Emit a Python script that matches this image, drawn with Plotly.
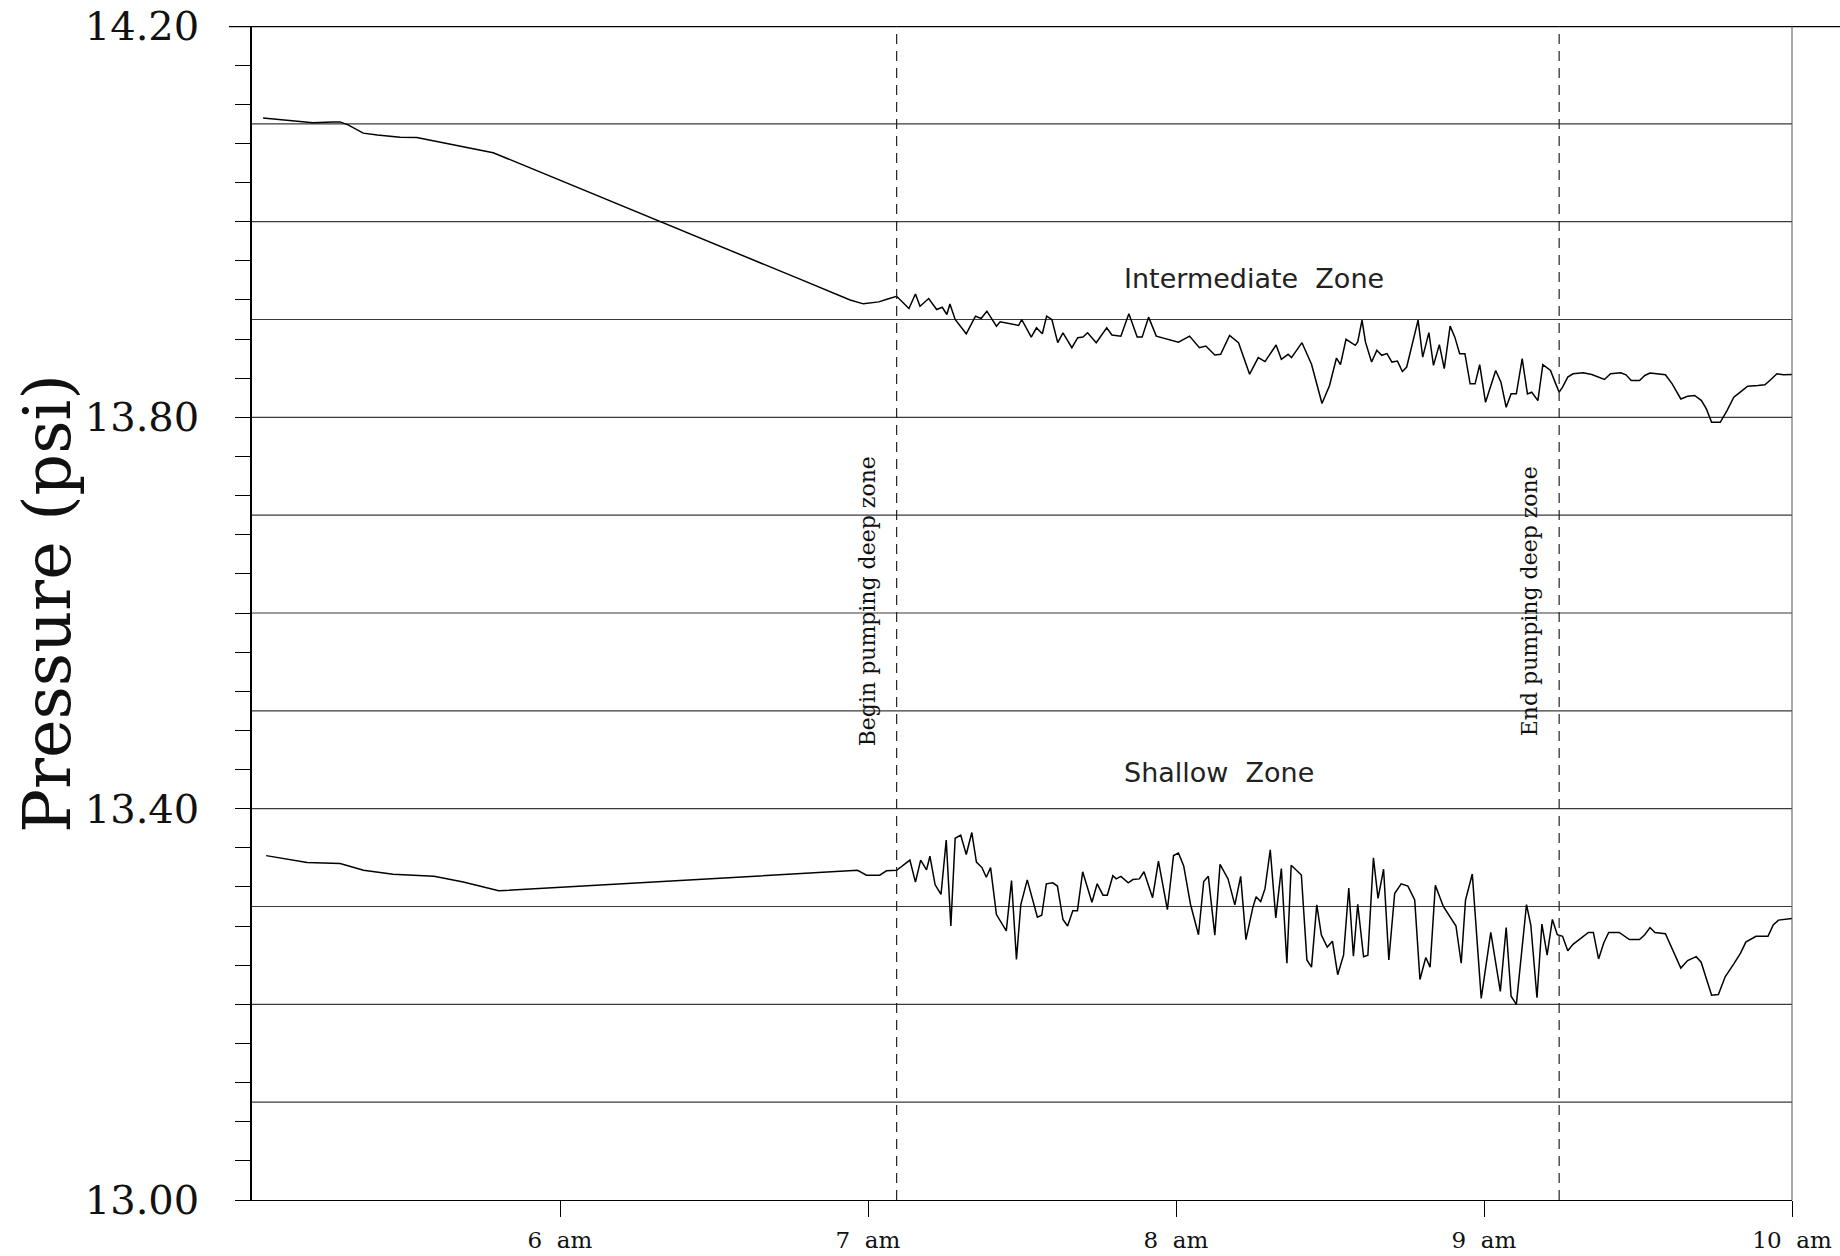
import plotly.graph_objects as go

# ---------------- data (time in hours of day, pressure in psi) ----------------
int_time = [5.036, 5.198, 5.263, 5.286, 5.312, 5.361, 5.407, 5.481, 5.535, 5.783,
            6.783, 6.942, 6.985, 7.035, 7.064, 7.093, 7.133, 7.154, 7.169, 7.197,
            7.223, 7.241, 7.256, 7.266, 7.283, 7.319, 7.349, 7.367, 7.386, 7.417,
            7.429, 7.460, 7.489, 7.499, 7.530, 7.547, 7.566, 7.580, 7.597, 7.616,
            7.633, 7.662, 7.681, 7.698, 7.713, 7.741, 7.775, 7.792, 7.821, 7.847,
            7.874, 7.890, 7.911, 7.936, 7.965, 8.008, 8.044, 8.076, 8.097, 8.126,
            8.145, 8.174, 8.203, 8.239, 8.267, 8.289, 8.325, 8.342, 8.364, 8.375,
            8.409, 8.440, 8.474, 8.4985, 8.521, 8.534, 8.552, 8.582, 8.590, 8.604,
            8.615, 8.635, 8.652, 8.668, 8.685, 8.701, 8.719, 8.735, 8.749, 8.766,
            8.786, 8.801, 8.821, 8.836, 8.855, 8.871, 8.890, 8.905, 8.921, 8.938,
            8.955, 8.971, 8.986, 9.005, 9.038, 9.055, 9.072, 9.088, 9.105, 9.124,
            9.141, 9.155, 9.175, 9.191, 9.216, 9.233, 9.244, 9.255, 9.272, 9.289,
            9.322, 9.350, 9.372, 9.391, 9.411, 9.444, 9.461, 9.478, 9.505, 9.522,
            9.539, 9.589, 9.611, 9.639, 9.661, 9.684, 9.706, 9.722, 9.739, 9.767,
            9.789, 9.811, 9.828, 9.856, 9.889, 9.912, 9.928, 9.951, 9.973, 10.0]
int_psi = [14.106, 14.101, 14.102, 14.102, 14.099, 14.0905, 14.0886, 14.0864, 14.086, 14.0705,
           13.9407, 13.920, 13.916, 13.918, 13.921, 13.9237, 13.9112, 13.9261, 13.9136, 13.9214,
           13.9102, 13.9125, 13.9051, 13.9159, 13.900, 13.8854, 13.9034, 13.9010, 13.9085, 13.8932,
           13.8976, 13.8956, 13.8939, 13.900, 13.882, 13.8915, 13.8854, 13.9034, 13.900, 13.8763,
           13.8864, 13.8712, 13.8814, 13.882, 13.8864, 13.8763, 13.8915, 13.8841, 13.883, 13.9058,
           13.882, 13.882, 13.9024, 13.883, 13.8807, 13.8769, 13.883, 13.8712, 13.8729, 13.8637,
           13.8644, 13.8837, 13.8763, 13.8441, 13.861, 13.857, 13.8739, 13.8593, 13.8644, 13.861,
           13.8763, 13.8542, 13.8142, 13.8325, 13.8606, 13.8538, 13.8798, 13.8736, 13.8771, 13.8993,
           13.8771, 13.8565, 13.8685, 13.8634, 13.8651, 13.8565, 13.8575, 13.8469, 13.8514, 13.8736,
           13.8993, 13.8616, 13.8866, 13.8531, 13.8743, 13.8497, 13.8932, 13.8822, 13.8651, 13.8651,
           13.8342, 13.8342, 13.8538, 13.8154, 13.8479, 13.836, 13.8103, 13.824, 13.824, 13.8599,
           13.824, 13.8257, 13.8171, 13.8538, 13.8479, 13.8342, 13.8257, 13.8308, 13.8411, 13.8445,
           13.8455, 13.8438, 13.8411, 13.8387, 13.8445, 13.8455, 13.8435, 13.8377, 13.8377, 13.8428,
           13.8452, 13.8435, 13.8342, 13.8188, 13.8216, 13.8223, 13.8171, 13.8086, 13.7949, 13.7949,
           13.8068, 13.8205, 13.8247, 13.8318, 13.8325, 13.8332, 13.8377, 13.8445, 13.8435, 13.8438]

sh_time = [5.046, 5.179, 5.286, 5.362, 5.458, 5.591, 5.686, 5.801, 6.966, 6.995,
           7.038, 7.060, 7.093, 7.110, 7.136, 7.154, 7.171, 7.190, 7.201, 7.218,
           7.237, 7.254, 7.269, 7.283, 7.301, 7.319, 7.337, 7.352, 7.370, 7.384,
           7.398, 7.417, 7.449, 7.466, 7.482, 7.496, 7.517, 7.550, 7.564, 7.579,
           7.600, 7.615, 7.633, 7.648, 7.665, 7.680, 7.697, 7.727, 7.744, 7.763,
           7.777, 7.795, 7.806, 7.821, 7.845, 7.860, 7.881, 7.896, 7.924, 7.943,
           7.972, 7.992, 8.008, 8.025, 8.047, 8.073, 8.090, 8.105, 8.126, 8.143,
           8.169, 8.191, 8.210, 8.227, 8.249, 8.260, 8.275, 8.289, 8.306, 8.324,
           8.342, 8.360, 8.374, 8.407, 8.425, 8.440, 8.457, 8.472, 8.491, 8.508,
           8.525, 8.544, 8.561, 8.576, 8.590, 8.609, 8.623, 8.641, 8.656, 8.674,
           8.691, 8.710, 8.731, 8.753, 8.775, 8.792, 8.811, 8.825, 8.842, 8.868,
           8.909, 8.926, 8.940, 8.962, 8.991, 9.022, 9.053, 9.072, 9.088, 9.105,
           9.138, 9.152, 9.172, 9.188, 9.205, 9.222, 9.238, 9.255, 9.272, 9.289,
           9.316, 9.339, 9.355, 9.372, 9.389, 9.405, 9.439, 9.472, 9.505, 9.522,
           9.539, 9.555, 9.589, 9.611, 9.639, 9.661, 9.689, 9.705, 9.722, 9.739,
           9.761, 9.783, 9.811, 9.833, 9.850, 9.883, 9.922, 9.939, 9.956, 9.983, 10.0]
sh_psi = [13.352, 13.345, 13.344, 13.337, 13.333, 13.331, 13.325, 13.316, 13.337, 13.332,
          13.332, 13.3365, 13.337, 13.3415, 13.3474, 13.3249, 13.3474, 13.3375, 13.3514, 13.3222,
          13.3123, 13.368, 13.2801, 13.3697, 13.373, 13.3531, 13.3756, 13.3454, 13.3398, 13.3299,
          13.3398, 13.2917, 13.2751, 13.3265, 13.2459, 13.3017, 13.3272, 13.2891, 13.291, 13.3232,
          13.3242, 13.3209, 13.2867, 13.2801, 13.2957, 13.2957, 13.3355, 13.3043, 13.3232, 13.3116,
          13.3116, 13.3315, 13.3282, 13.3308, 13.3242, 13.3275, 13.3282, 13.3355, 13.309, 13.3464,
          13.2967, 13.3521, 13.3547, 13.3415, 13.3023, 13.2711, 13.3255, 13.3308, 13.2708, 13.3431,
          13.3282, 13.3017, 13.3308, 13.2662, 13.2983, 13.31, 13.305, 13.3182, 13.358, 13.2884,
          13.3388, 13.242, 13.3421, 13.3322, 13.2453, 13.238, 13.3017, 13.2708, 13.2585, 13.2645,
          13.2303, 13.2502, 13.3189, 13.2492, 13.3023, 13.2486, 13.2502, 13.3498, 13.3083, 13.3381,
          13.2453, 13.3133, 13.3232, 13.3209, 13.3066, 13.2254, 13.2479, 13.238, 13.3216, 13.300,
          13.2801, 13.242, 13.3066, 13.3332, 13.2061, 13.2735, 13.2133, 13.2785, 13.2083, 13.200,
          13.302, 13.2811, 13.2067, 13.2821, 13.2504, 13.2868, 13.2712, 13.2695, 13.2547, 13.2613,
          13.2679, 13.2735, 13.2735, 13.2464, 13.2629, 13.2735, 13.2735, 13.2662, 13.2662, 13.2712,
          13.2785, 13.2735, 13.2722, 13.2563, 13.2371, 13.2447, 13.2487, 13.2431, 13.2265, 13.2093,
          13.210, 13.2282, 13.2414, 13.2523, 13.2636, 13.2695, 13.2695, 13.2811, 13.2861, 13.2868, 13.2877]

x_tick_vals = [6, 7, 8, 9, 10]
x_tick_text = ["6\u00a0\u00a0am", "7\u00a0\u00a0am", "8\u00a0\u00a0am", "9\u00a0\u00a0am", "10\u00a0\u00a0am"]
y_tick_vals = [13.0, 13.4, 13.8, 14.2]
y_tick_text = ["13.00", "13.40", "13.80", "14.20"]
y_minor_ticks = [13.0, 13.04, 13.08, 13.12, 13.16, 13.2, 13.24, 13.28, 13.32, 13.36, 13.4,
                 13.44, 13.48, 13.52, 13.56, 13.6, 13.64, 13.68, 13.72, 13.76, 13.8,
                 13.84, 13.88, 13.92, 13.96, 14.0, 14.04, 14.08, 14.12, 14.16, 14.2]
grid_psi = [13.1, 13.2, 13.3, 13.4, 13.5, 13.6, 13.7, 13.8, 13.9, 14.0, 14.1]

event_time = [7.093, 9.244]
event_labels = ["Begin pumping deep zone", "End pumping deep zone"]
event_label_time = [6.997, 9.146]
event_label_psi = 13.612

zone_labels = ["Intermediate\u00a0\u00a0Zone", "Shallow\u00a0\u00a0Zone"]
zone_label_time = [8.252, 8.138]
zone_label_psi = [13.942, 13.4365]

SERIF = "DejaVu Serif, Liberation Serif, serif"

# ---------------- figure ----------------
fig = go.Figure()
line_style = dict(color="black", width=1.5)
fig.add_trace(go.Scatter(x=int_time, y=int_psi, mode="lines", line=line_style,
                         name="Intermediate Zone", showlegend=False))
fig.add_trace(go.Scatter(x=sh_time, y=sh_psi, mode="lines", line=line_style,
                         name="Shallow Zone", showlegend=False))

shapes = []
for g in grid_psi:
    shapes.append(dict(type="line", xref="paper", yref="y", x0=0, x1=1, y0=g, y1=g,
                       line=dict(color="#3a3a3a", width=1.1), layer="below"))
# top border extends past the plot on the right
shapes.append(dict(type="line", xref="paper", yref="y", x0=-0.015, x1=1.04, y0=14.2, y1=14.2,
                   line=dict(color="black", width=2.5)))
# right border
shapes.append(dict(type="line", xref="paper", yref="paper", x0=1, x1=1, y0=0, y1=1,
                   line=dict(color="#555", width=1)))
for t in event_time:
    shapes.append(dict(type="line", xref="x", yref="paper", x0=t, x1=t, y0=0, y1=1,
                       line=dict(color="#222", width=1.2, dash="10px,7px")))

annotations = []
for txt, t, p in zip(zone_labels, zone_label_time, zone_label_psi):
    annotations.append(dict(x=t, y=p, xref="x", yref="y", text=txt, showarrow=False,
                            font=dict(family="DejaVu Sans", size=27, color="#222")))
for txt, t in zip(event_labels, event_label_time):
    annotations.append(dict(x=t, y=event_label_psi, xref="x", yref="y", text=txt,
                            showarrow=False, textangle=-90,
                            font=dict(family=SERIF, size=22, color="#111")))
annotations.append(dict(x=-0.133, y=0.508, xref="paper", yref="paper", text="Pressure (psi)",
                        showarrow=False, textangle=-90, xanchor="center", yanchor="middle",
                        font=dict(family=SERIF, size=65, color="#111")))

fig.update_layout(
    width=1840, height=1256,
    margin=dict(l=252, r=48, t=26, b=56, autoexpand=False),
    paper_bgcolor="white", plot_bgcolor="white",
    shapes=shapes, annotations=annotations,
    xaxis=dict(range=[5, 10], tickvals=x_tick_vals, ticktext=x_tick_text, automargin=False,
               showgrid=False, zeroline=False, showline=True, linecolor="black", linewidth=1,
               ticks="outside", ticklen=16, tickwidth=1, tickcolor="black",
               ticklabelstandoff=3, ticklabeloverflow="allow",
               tickfont=dict(family=SERIF, size=23, color="#111")),
    yaxis=dict(range=[13.0, 14.2], tickvals=y_tick_vals, ticktext=y_tick_text, automargin=False,
               showgrid=False, zeroline=False, showline=True, linecolor="black", linewidth=1.5,
               ticks="outside", ticklen=15, tickwidth=1, tickcolor="black",
               ticklabelstandoff=28, ticklabeloverflow="allow",
               minor=dict(tickvals=y_minor_ticks,
                          ticks="outside", ticklen=15, tickwidth=1, tickcolor="black",
                          showgrid=False),
               tickfont=dict(family=SERIF, size=40, color="#111")),
)

# remove the default page margin so the 1840x1256 figure fills the window exactly
fig.write_html("out.html",
               config={"displayModeBar": False},
               post_script="document.body.style.margin='0';document.body.style.overflow='hidden';")
